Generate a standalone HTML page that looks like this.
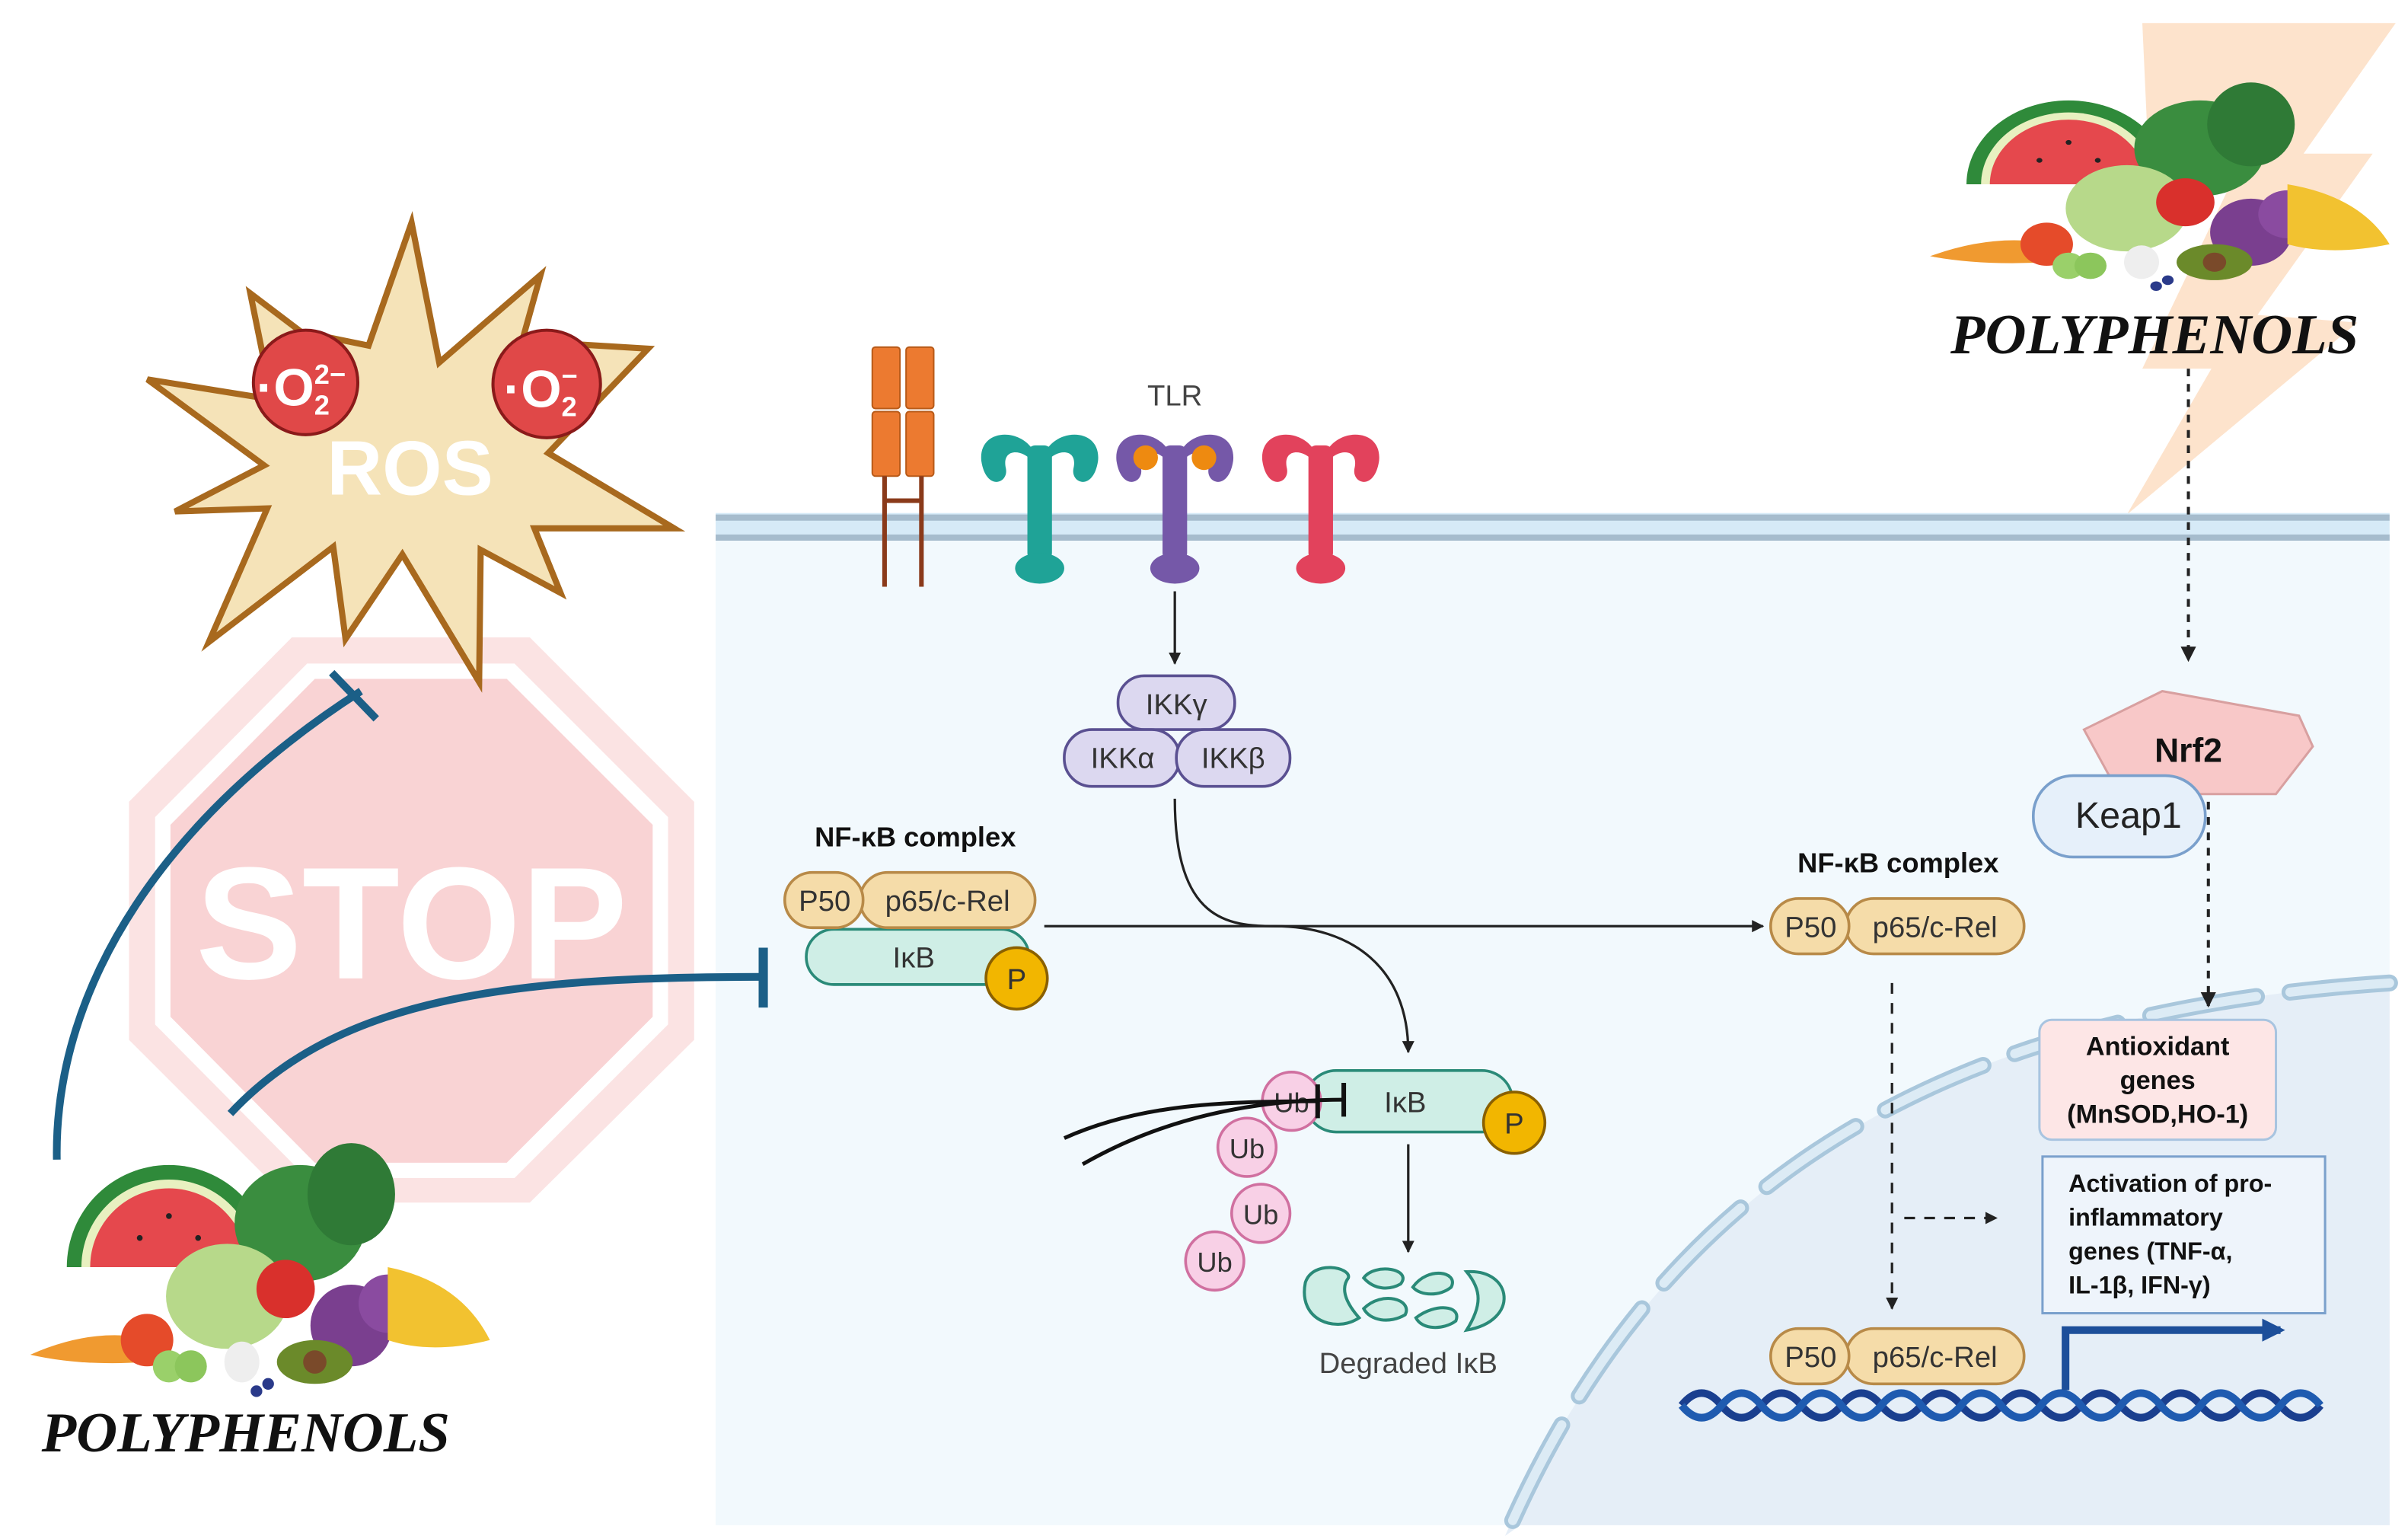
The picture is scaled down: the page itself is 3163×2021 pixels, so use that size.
<!DOCTYPE html>
<html><head><meta charset="utf-8"><style>
html,body{margin:0;padding:0;background:#fff;}
svg{display:block;}
text{font-family:"Liberation Sans",sans-serif;}
</style></head><body>
<svg width="3163" height="2021" viewBox="0 0 1568 1002" preserveAspectRatio="none" xmlns="http://www.w3.org/2000/svg">
<defs>
<marker id="ah" viewBox="0 0 10 10" refX="9" refY="5" markerWidth="5" markerHeight="5" orient="auto"><path d="M0,0 L10,5 L0,10 Z" fill="#222"/></marker>
<marker id="ahb" viewBox="0 0 10 10" refX="8" refY="5" markerWidth="3" markerHeight="3" orient="auto"><path d="M0,0 L10,5 L0,10 Z" fill="#1d4f9a"/></marker>
<g id="fruit">
  <path d="M30,100 A70,70 0 0 1 170,100 Z" fill="#2f8a3a"/>
  <path d="M40,100 A60,60 0 0 1 160,100 Z" fill="#e8f0c0"/>
  <path d="M46,100 A54,54 0 0 1 154,100 Z" fill="#e5484d"/>
  <circle cx="80" cy="80" r="2" fill="#222"/><circle cx="100" cy="65" r="2" fill="#222"/><circle cx="120" cy="80" r="2" fill="#222"/>
  <ellipse cx="190" cy="70" rx="45" ry="40" fill="#3a8d3f"/>
  <ellipse cx="225" cy="50" rx="30" ry="35" fill="#2f7a36"/>
  <ellipse cx="140" cy="120" rx="42" ry="36" fill="#b7d98a"/>
  <circle cx="225" cy="140" r="28" fill="#7a3f8f"/><circle cx="250" cy="125" r="20" fill="#8a4ba0"/>
  <path d="M250,100 Q300,110 320,150 Q280,160 250,150 Z" fill="#f2c230"/>
  <circle cx="180" cy="115" r="20" fill="#d9302c"/>
  <ellipse cx="200" cy="165" rx="26" ry="15" fill="#6b8a2a"/><circle cx="200" cy="165" r="8" fill="#7a4a2a"/>
  <path d="M5,160 Q50,140 90,150 L85,165 Q40,168 5,160Z" fill="#f09a30"/>
  <circle cx="85" cy="150" r="18" fill="#e54b2a"/>
  <circle cx="100" cy="168" r="11" fill="#9ad06a"/><circle cx="115" cy="168" r="11" fill="#8cc65c"/>
  <ellipse cx="150" cy="165" rx="12" ry="14" fill="#eee"/>
  <circle cx="160" cy="185" r="4" fill="#2a3a8a"/><circle cx="168" cy="180" r="4" fill="#2a3a8a"/>
</g>
<g id="rec">
<path d="M-38,300 C-40,280 -15,278 -5,292 L-5,300 C-12,292 -25,292 -22,305 C-20,315 -35,320 -38,300Z"/>
<path d="M38,300 C40,280 15,278 5,292 L5,300 C12,292 25,292 22,305 C20,315 35,320 38,300Z"/>
<rect x="-8" y="290" width="16" height="75" rx="5"/>
<ellipse cx="0" cy="370" rx="16" ry="10"/>
</g>
</defs>

<!-- lightning -->
<polygon points="1395,15 1560,15 1500,100 1545,100 1470,205 1535,210 1385,335 1440,240 1395,240 1450,125 1400,125" fill="#fde3cc"/>

<!-- cell -->
<rect x="466" y="343" width="1090" height="650" fill="#f2f9fd"/>
<path d="M980,1000 C1080,780 1250,660 1556,640 L1556,993 L990,993 Z" fill="#e5eef7"/>
<path d="M985,990 C1080,780 1250,660 1556,640" fill="none" stroke="#a9c7dc" stroke-width="11" stroke-dasharray="70 22" stroke-linecap="round"/>
<path d="M985,990 C1080,780 1250,660 1556,640" fill="none" stroke="#dcebf5" stroke-width="6" stroke-dasharray="70 22" stroke-linecap="round"/>
<rect x="466" y="334" width="1090" height="18" fill="#d6eaf7"/>
<line x1="466" y1="337" x2="1556" y2="337" stroke="#a6bccd" stroke-width="4"/>
<line x1="466" y1="350" x2="1556" y2="350" stroke="#a6bccd" stroke-width="4"/>

<!-- stop sign -->
<polygon points="190,415 345,415 452,522 452,677 345,783 190,783 84,677 84,522" fill="#fbe3e3"/>
<polygon points="200,432 335,432 435,532 435,667 335,767 200,767 101,667 101,532" fill="#fff"/>
<polygon points="205,442 330,442 425,537 425,662 330,757 205,757 111,662 111,537" fill="#f9d3d4"/>
<text x="268" y="637" font-size="104" font-weight="bold" fill="#fff" text-anchor="middle">STOP</text>

<!-- ROS star -->
<polygon points="268,145 286,236 352,179 340,222 422,227 357,295 439,344 348,344 365,386 313,358 312,444 262,361 225,416 217,356 136,418 174,331 114,333 172,303 96,247 177,260 163,191 196,216 240,225" fill="#f5e3b8" stroke="#a8691e" stroke-width="4" stroke-linejoin="miter"/>
<text x="267" y="322" font-size="50" font-weight="bold" fill="#fff" text-anchor="middle">ROS</text>
<circle cx="199" cy="249" r="34" fill="#e04848" stroke="#8a1a1a" stroke-width="2"/>
<text x="196" y="264" font-size="34" font-weight="bold" fill="#fff" text-anchor="middle">·O<tspan font-size="18" dy="6">2</tspan><tspan font-size="18" dx="-10" dy="-20">2−</tspan></text>
<circle cx="356" cy="250" r="35" fill="#e04848" stroke="#8a1a1a" stroke-width="2"/>
<text x="352" y="265" font-size="34" font-weight="bold" fill="#fff" text-anchor="middle">·O<tspan font-size="18" dy="6">2</tspan><tspan font-size="18" dx="-10" dy="-20">−</tspan></text>

<!-- inhibition lines -->
<path d="M37,755 C35,640 110,530 235,450" fill="none" stroke="#1b5f87" stroke-width="5"/>
<line x1="216" y1="438" x2="245" y2="468" stroke="#1b5f87" stroke-width="5"/>
<path d="M150,725 C220,650 330,636 495,636" fill="none" stroke="#1b5f87" stroke-width="5"/>
<line x1="497" y1="617" x2="497" y2="656" stroke="#1b5f87" stroke-width="6"/>

<!-- fruits -->
<g transform="translate(15,730) scale(0.95)"><use href="#fruit"/></g>
<g transform="translate(1252,42) scale(0.95,0.78)"><use href="#fruit"/></g>
<text x="160" y="945" font-style="italic" font-weight="bold" font-size="37" text-anchor="middle" fill="#111" style="font-family:'Liberation Serif',serif">POLYPHENOLS</text>
<text x="1403" y="230" font-style="italic" font-weight="bold" font-size="37" text-anchor="middle" fill="#111" style="font-family:'Liberation Serif',serif">POLYPHENOLS</text>

<!-- orange receptor -->
<g fill="#ec7a30" stroke="#b85a18" stroke-width="1">
<rect x="568" y="226" width="18" height="40" rx="2"/><rect x="590" y="226" width="18" height="40" rx="2"/>
<rect x="568" y="268" width="18" height="42" rx="2"/><rect x="590" y="268" width="18" height="42" rx="2"/>
</g>
<g stroke="#8a3a1a" stroke-width="3"><line x1="576" y1="310" x2="576" y2="382"/><line x1="600" y1="310" x2="600" y2="382"/><line x1="576" y1="326" x2="600" y2="326"/></g>

<!-- TLR receptors -->
<g fill="#1fa397" transform="translate(677,0)"><use href="#rec"/></g>
<g fill="#7558a8" transform="translate(765,0)"><use href="#rec"/></g>
<circle cx="746" cy="298" r="8" fill="#ee8a10"/><circle cx="784" cy="298" r="8" fill="#ee8a10"/>
<g fill="#e2425c" transform="translate(860,0)"><use href="#rec"/></g>
<text x="765" y="264" font-size="19" fill="#444" text-anchor="middle">TLR</text>

<line x1="765" y1="385" x2="765" y2="432" stroke="#222" stroke-width="1.6" marker-end="url(#ah)"/>

<!-- IKK -->
<g fill="#dcd8f0" stroke="#5a5091" stroke-width="1.8">
<rect x="728" y="440" width="76" height="35" rx="17"/>
<rect x="693" y="475" width="75" height="37" rx="18"/>
<rect x="766" y="475" width="74" height="37" rx="18"/>
</g>
<g font-size="19" fill="#333" text-anchor="middle">
<text x="766" y="465">IKKγ</text><text x="731" y="500">IKKα</text><text x="803" y="500">IKKβ</text>
</g>

<path d="M765,520 C765,600 800,603 830,603 C880,603 917,630 917,685" fill="none" stroke="#222" stroke-width="1.6" marker-end="url(#ah)"/>
<line x1="680" y1="603" x2="1148" y2="603" stroke="#222" stroke-width="1.6" marker-end="url(#ah)"/>

<!-- left NFkB -->
<text x="596" y="551" font-size="18" font-weight="bold" fill="#111" text-anchor="middle">NF-κB complex</text>
<rect x="525" y="605" width="145" height="36" rx="18" fill="#cfeee6" stroke="#2a8a78" stroke-width="1.8"/>
<text x="595" y="630" font-size="19" fill="#333" text-anchor="middle">IκB</text>
<rect x="560" y="568" width="114" height="36" rx="18" fill="#f5dca9" stroke="#b88a48" stroke-width="1.8"/>
<rect x="511" y="568" width="51" height="36" rx="18" fill="#f5dca9" stroke="#b88a48" stroke-width="1.8"/>
<text x="537" y="593" font-size="19" fill="#333" text-anchor="middle">P50</text>
<text x="617" y="593" font-size="19" fill="#333" text-anchor="middle">p65/c-Rel</text>
<circle cx="662" cy="637" r="20" fill="#f2b600" stroke="#8a6000" stroke-width="1.8"/>
<text x="662" y="644" font-size="19" fill="#333" text-anchor="middle">P</text>

<!-- middle IkB with Ub -->
<rect x="850" y="697" width="135" height="40" rx="20" fill="#cfeee6" stroke="#2a8a78" stroke-width="1.8"/>
<text x="915" y="724" font-size="19" fill="#333" text-anchor="middle">IκB</text>
<g fill="#f8d0e6" stroke="#d070a0" stroke-width="1.8">
<circle cx="841" cy="717" r="19"/><circle cx="812" cy="747" r="19"/><circle cx="821" cy="790" r="19"/><circle cx="791" cy="821" r="19"/>
</g>
<g font-size="18" fill="#333" text-anchor="middle">
<text x="841" y="724">Ub</text><text x="812" y="754">Ub</text><text x="821" y="797">Ub</text><text x="791" y="828">Ub</text>
</g>
<circle cx="986" cy="731" r="20" fill="#f2b600" stroke="#8a6000" stroke-width="1.8"/>
<text x="986" y="738" font-size="19" fill="#333" text-anchor="middle">P</text>
<path d="M693,741 C740,720 790,717 858,717" fill="none" stroke="#111" stroke-width="2.5"/>
<line x1="858" y1="706" x2="858" y2="728" stroke="#111" stroke-width="3"/>
<path d="M705,758 C745,735 800,716 875,716" fill="none" stroke="#111" stroke-width="2.5"/>
<line x1="875" y1="705" x2="875" y2="727" stroke="#111" stroke-width="3"/>
<line x1="917" y1="745" x2="917" y2="815" stroke="#222" stroke-width="1.6" marker-end="url(#ah)"/>
<g fill="#cfeee6" stroke="#2a8a78" stroke-width="2">
<path d="M850,835 C855,820 880,825 878,832 C872,840 878,850 885,858 C870,868 845,860 850,835Z"/>
<path d="M888,832 C895,822 920,826 912,836 C905,840 895,840 888,832Z"/>
<path d="M888,852 C900,840 920,846 915,856 C905,862 892,860 888,852Z"/>
<path d="M920,838 C930,824 950,828 945,838 C938,844 925,844 920,838Z"/>
<path d="M922,858 C935,848 952,850 948,860 C940,866 926,866 922,858Z"/>
<path d="M955,828 C985,826 990,860 955,866 C965,850 965,840 955,828Z"/>
</g>
<text x="917" y="894" font-size="19" fill="#444" text-anchor="middle">Degraded IκB</text>

<!-- right NFkB -->
<text x="1236" y="568" font-size="18" font-weight="bold" fill="#111" text-anchor="middle">NF-κB complex</text>
<rect x="1202" y="585" width="116" height="36" rx="18" fill="#f5dca9" stroke="#b88a48" stroke-width="1.8"/>
<rect x="1153" y="585" width="51" height="36" rx="18" fill="#f5dca9" stroke="#b88a48" stroke-width="1.8"/>
<text x="1179" y="610" font-size="19" fill="#333" text-anchor="middle">P50</text>
<text x="1260" y="610" font-size="19" fill="#333" text-anchor="middle">p65/c-Rel</text>
<line x1="1232" y1="640" x2="1232" y2="852" stroke="#222" stroke-width="1.6" stroke-dasharray="7 6" marker-end="url(#ah)"/>
<line x1="1240" y1="793" x2="1300" y2="793" stroke="#222" stroke-width="1.6" stroke-dasharray="7 6" marker-end="url(#ah)"/>

<!-- DNA -->
<path d="M1095,915 q13,-16 26,0 t26,0 t26,0 t26,0 t26,0 t26,0 t26,0 t26,0 t26,0 t26,0 t26,0 t26,0 t26,0 t26,0 t26,0 t26,0" fill="none" stroke="#1a3f8f" stroke-width="5"/>
<path d="M1095,915 q13,16 26,0 t26,0 t26,0 t26,0 t26,0 t26,0 t26,0 t26,0 t26,0 t26,0 t26,0 t26,0 t26,0 t26,0 t26,0 t26,0" fill="none" stroke="#1f5bb0" stroke-width="5"/>
<rect x="1202" y="865" width="116" height="36" rx="18" fill="#f5dca9" stroke="#b88a48" stroke-width="1.8"/>
<rect x="1153" y="865" width="51" height="36" rx="18" fill="#f5dca9" stroke="#b88a48" stroke-width="1.8"/>
<text x="1179" y="890" font-size="19" fill="#333" text-anchor="middle">P50</text>
<text x="1260" y="890" font-size="19" fill="#333" text-anchor="middle">p65/c-Rel</text>
<path d="M1345,905 L1345,866 L1485,866" fill="none" stroke="#1d4f9a" stroke-width="5" marker-end="url(#ahb)"/>

<!-- Nrf2 -->
<line x1="1425" y1="240" x2="1425" y2="430" stroke="#222" stroke-width="2" stroke-dasharray="5 5" marker-end="url(#ah)"/>
<polygon points="1357,475 1408,450 1497,466 1506,486 1482,517 1380,517" fill="#f8c8c8" stroke="#d8a0a0" stroke-width="1.5"/>
<text x="1425" y="496" font-size="22" font-weight="bold" fill="#111" text-anchor="middle">Nrf2</text>
<rect x="1324" y="505" width="112" height="53" rx="26" fill="#e6f0fa" stroke="#7aa0cc" stroke-width="1.8"/>
<text x="1386" y="539" font-size="24" fill="#222" text-anchor="middle">Keap1</text>
<line x1="1438" y1="522" x2="1438" y2="655" stroke="#222" stroke-width="2" stroke-dasharray="5 5" marker-end="url(#ah)"/>

<rect x="1328" y="664" width="154" height="78" rx="8" fill="#fde6e6" stroke="#a8c4e0" stroke-width="1.5"/>
<g font-size="17" font-weight="bold" fill="#111" text-anchor="middle">
<text x="1405" y="687">Antioxidant</text><text x="1405" y="709">genes</text><text x="1405" y="731">(MnSOD,HO-1)</text>
</g>
<rect x="1330" y="753" width="184" height="102" fill="#eef4fb" stroke="#7aa0cc" stroke-width="1.5"/>
<g font-size="16" font-weight="bold" fill="#111">
<text x="1347" y="776">Activation of pro-</text><text x="1347" y="798">inflammatory</text><text x="1347" y="820">genes (TNF-α,</text><text x="1347" y="842">IL-1β, IFN-γ)</text>
</g>
</svg>
</body></html>
